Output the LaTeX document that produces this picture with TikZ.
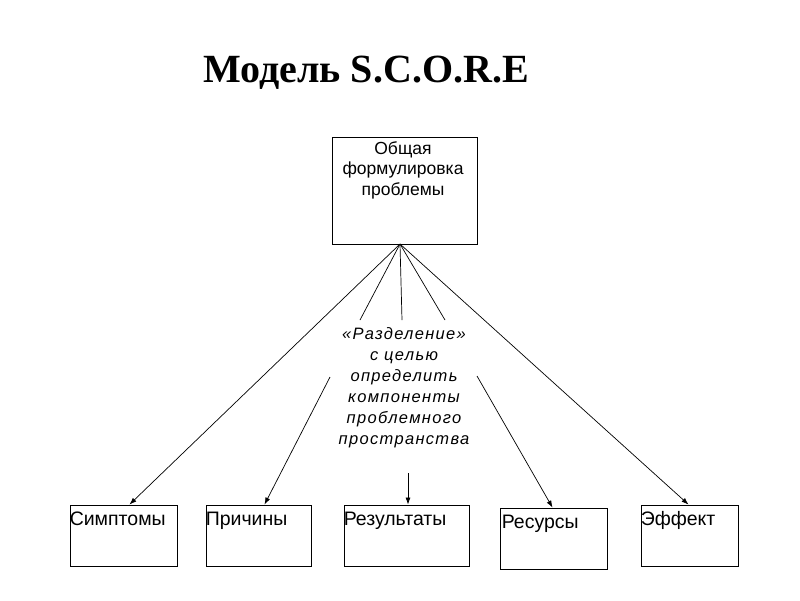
\documentclass[tikz,border=0pt]{standalone}
\usepackage{fontspec}
\setmainfont{Liberation Sans}
\newfontfamily\titlefont{Liberation Serif}
\newfontfamily\spacedit[LetterSpace=8]{Liberation Sans}
\usetikzlibrary{arrows.meta,calc}
\begin{document}
\begin{tikzpicture}[x=1pt,y=-1pt,
  box/.style={draw,line width=0.9pt,inner sep=0pt},
  lbl/.style={anchor=base west,inner sep=0pt,font=\fontsize{19.5}{22}\selectfont},
  conn/.style={line width=0.7pt},
  arr/.style={line width=0.7pt,-{Latex[length=7pt,width=5pt]}}]
\useasboundingbox[fill=white] (0,0) rectangle (800,600);
\node[inner sep=0pt,anchor=base,font=\titlefont\bfseries\fontsize{40}{44}\selectfont] (title) at (366,82) {Модель S.C.O.R.E};
\node[box,minimum width=145pt,minimum height=107pt] (top) at (404.5,190.5) {};
\node[inner sep=0pt,anchor=north,align=center,font=\fontsize{17.5}{20.5}\selectfont] (toptext) at (403,141) {Общая\\формулировка\\проблемы};
\node[inner sep=0pt,anchor=north,align=center,font=\spacedit\itshape\fontsize{16.5}{21}\selectfont] (mid) at (404,327) {«Разделение»\\с целью\\определить\\компоненты\\проблемного\\пространства};
\node[box,minimum width=107pt,minimum height=61pt] (sym) at (123.5,535.5) {};
\node[box,minimum width=105pt,minimum height=61pt] (cause) at (258.5,535.5) {};
\node[box,minimum width=125pt,minimum height=61pt] (res) at (406.5,535.5) {};
\node[box,minimum width=107pt,minimum height=61pt] (resr) at (553.5,538.5) {};
\node[box,minimum width=97pt,minimum height=61pt] (eff) at (689.5,535.5) {};
\node[lbl] (symt) at ($(sym.north west)+(0,21)$) {Симптомы};
\node[lbl] (causet) at ($(cause.north west)+(0,21)$) {Причины};
\node[lbl] (rest) at ($(res.north west)+(0,21)$) {Результаты};
\node[lbl] (resrt) at ($(resr.north west)+(2,21)$) {Ресурсы};
\node[lbl] (efft) at ($(eff.north west)+(0,21)$) {Эффект};
\coordinate (apex) at (400,244);
\coordinate (a2) at (360,320);
\coordinate (a3) at (402,320);
\coordinate (a4) at (445,320);
\coordinate (b2) at (330,377);
\coordinate (b3) at (408,473);
\coordinate (b4) at (477,376);
\draw[arr] (apex) -- ($(sym.north)+(6,0)$);
\draw[conn] (apex) -- (a2);
\draw[conn] (apex) -- (a3);
\draw[conn] (apex) -- (a4);
\draw[arr] (apex) -- ($(eff.north)+(-1,0)$);
\draw[arr] (b2) -- ($(cause.north)+(6,0)$);
\draw[arr] (b3) -- (b3 |- res.north);
\draw[arr] (b4) -- ($(resr.north)+(-1,0)$);
\end{tikzpicture}
\end{document}
